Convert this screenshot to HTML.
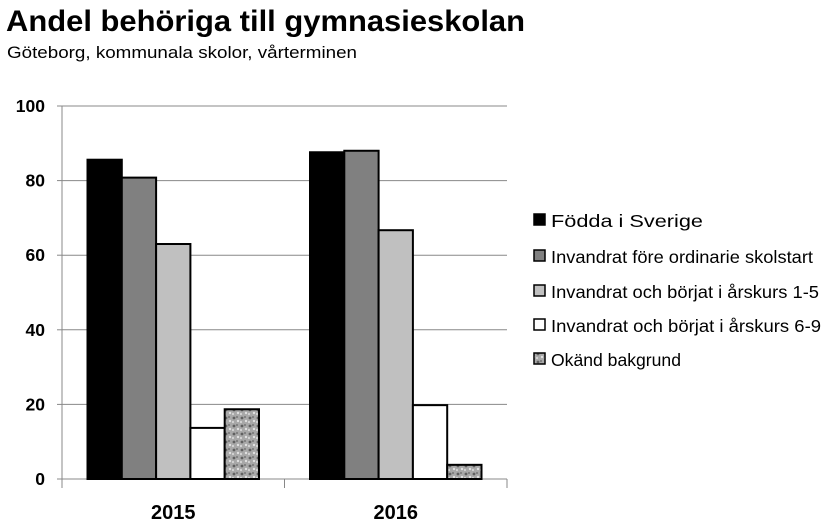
<!DOCTYPE html>
<html><head><meta charset="utf-8"><style>
body{margin:0;background:#fff;font-family:"Liberation Sans",sans-serif}
</style></head><body>
<svg width="828" height="523" xmlns="http://www.w3.org/2000/svg" font-family="Liberation Sans, DejaVu Sans, sans-serif">
<defs>
<pattern id="speck" width="8" height="8" patternUnits="userSpaceOnUse">
<rect width="8" height="8" fill="#a8a8a8"/>
<circle cx="2" cy="2" r="1.4" fill="#606060"/><circle cx="6" cy="5" r="1.2" fill="#e0e0e0"/>
<circle cx="5" cy="1" r="1" fill="#777"/><circle cx="1" cy="6" r="1.1" fill="#d4d4d4"/>
</pattern>
</defs>
<text x="6" y="31" font-size="30" font-weight="bold" textLength="519" lengthAdjust="spacingAndGlyphs">Andel behöriga till gymnasieskolan</text>
<text x="7" y="58" font-size="17" textLength="350" lengthAdjust="spacingAndGlyphs">Göteborg, kommunala skolor, vårterminen</text>
<g id="plot"></g>
</svg>
<script>
const categories=["2015","2016"];
const seriesNames=["Födda i Sverige","Invandrat före ordinarie skolstart","Invandrat och börjat i årskurs 1-5","Invandrat och börjat i årskurs 6-9","Okänd bakgrund"];
const v2015=[85.6,80.8,63.0,13.7,18.7];
const v2016=[87.6,88.0,66.7,19.8,3.8];
const yTicks=[0,20,40,60,80,100];
const values=[v2015,v2016];
const fills=["#000","#808080","#c0c0c0","#fff","url(#speck)"];
const legendLen=[152,262,268,270,130];
const NS="http://www.w3.org/2000/svg";
const g=document.getElementById('plot');
const x0=62,x1=507,yb=479,yt=106;
const y=v=>yb-(v/100)*(yb-yt);
const catW=(x1-x0)/categories.length, barW=34.3;
function mk(t,a,p){const e=document.createElementNS(NS,t);for(const k in a)e.setAttribute(k,a[k]);(p||g).appendChild(e);return e;}
yTicks.forEach(t=>{
 if(t>0){const l=mk('line',{x1:x0,x2:x1,y1:y(t),y2:y(t),stroke:'#888','stroke-width':1});
 
 }
 const tx=mk('text',{x:45,y:y(t)+6,'font-size':17.5,'font-weight':'bold','text-anchor':'end'});tx.textContent=t;
 
 
 mk('line',{x1:x0-5,x2:x0,y1:y(t),y2:y(t),stroke:'#888'});
});
mk('line',{x1:x0,x2:x0,y1:yt,y2:yb,stroke:'#888'});
mk('line',{x1:x0,x2:x1,y1:yb,y2:yb,stroke:'#888'});
for(let i=0;i<=categories.length;i++)mk('line',{x1:x0+i*catW,x2:x0+i*catW,y1:yb,y2:yb+9,stroke:'#888'});
categories.forEach((c,ci)=>{
 const cx=x0+catW*(ci+0.5), start=cx-barW*2.5;
 values[ci].forEach((v,si)=>{
  const r=mk('rect',{x:start+si*barW,y:y(v),width:barW,height:yb-y(v),fill:fills[si],stroke:'#000','stroke-width':2});
  
  
 });
 const t=mk('text',{x:cx,y:519,'font-size':20,'font-weight':'bold','text-anchor':'middle'});t.textContent=c;
 
 
});
const ly=[221,257,292,326,360];
seriesNames.forEach((n,i)=>{
 const lg=mk('g',{});
 
 
 mk('rect',{x:534,y:ly[i]-7,width:11,height:11,fill:fills[i],stroke:'#000','stroke-width':1.5},lg);
 const t=mk('text',{x:551,y:ly[i]+6,'font-size':17.5,textLength:legendLen[i],lengthAdjust:'spacingAndGlyphs'},lg);t.textContent=n;
});
</script>
</body></html>
